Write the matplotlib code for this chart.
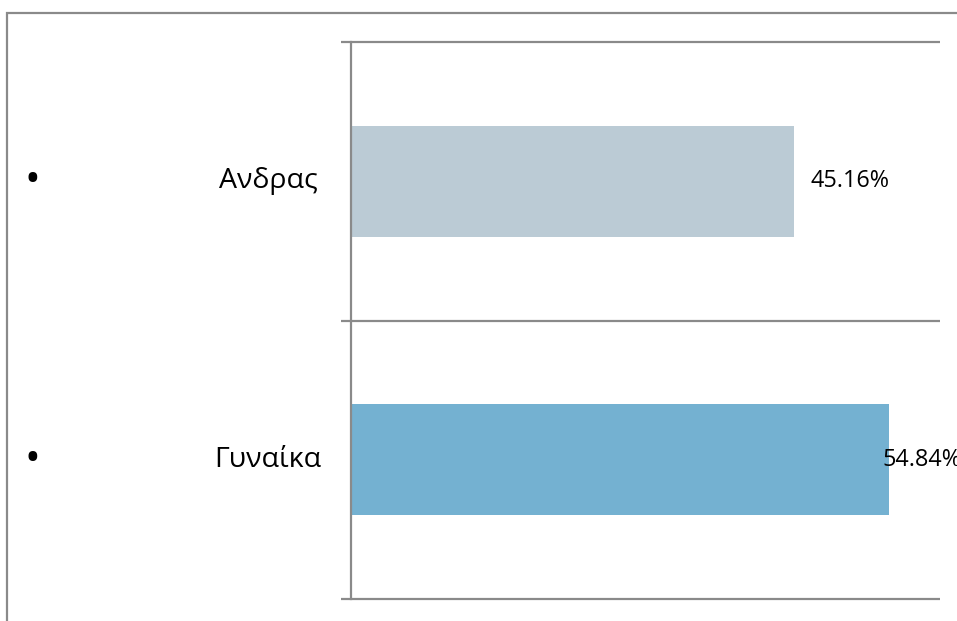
import matplotlib
matplotlib.use('Agg')
import matplotlib.pyplot as plt
import matplotlib.transforms as mtrans
from matplotlib.patches import Rectangle

categories = ['Ανδρας', 'Γυναίκα']
values = [45.16, 54.84]
value_labels = ['45.16%', '54.84%']
bar_colors = ['#BBCBD5', '#74B1D1']
label_shift_px = [16, -7]   # Excel nudges the second label back inside the plot

W, H = 957, 621
LINE = '#8A8A8A'
plt.rcParams['font.family'] = ['Open Sans', 'DejaVu Sans']

fig = plt.figure(figsize=(W / 100, H / 100), dpi=100)
fig.patch.set_facecolor('white')

# outer chart frame (runs off the right and bottom edges)
fig.patches.append(Rectangle((7 / W, -0.1), 1.2, 1.1 - 13 / H,
                             transform=fig.transFigure, fill=False,
                             edgecolor=LINE, linewidth=1.6))

ax_w = 940 - 351
ax = fig.add_axes([351 / W, 1 - 599 / H, ax_w / W, (599 - 42) / H])
ypos = list(range(len(categories)))
ax.barh(ypos, values, height=0.4, color=bar_colors, zorder=2)
ax.set_xlim(0, 60)
ax.set_ylim(len(categories) - 0.5, -0.5)

for s in ['top', 'right', 'bottom']:
    ax.spines[s].set_visible(False)
ax.spines['left'].set_color(LINE)
ax.spines['left'].set_linewidth(1.6)
ax.set_xticks([])
ax.set_yticks([])

# category boundary lines, with a short outside tick on the left
tr_ax = mtrans.blended_transform_factory(ax.transAxes, ax.transData)
bounds = [p - 0.5 for p in ypos] + [ypos[-1] + 0.5]
ax.hlines(bounds, -10 / ax_w, 1, transform=tr_ax, color=LINE,
          linewidth=1.6, clip_on=False, zorder=1)

# category labels with bullets, positioned in figure x / data y
tr = mtrans.blended_transform_factory(fig.transFigure, ax.transData)
for p, cat in zip(ypos, categories):
    ax.text(32 / W, p, '•', transform=tr, ha='center', va='center',
            fontsize=30, color='black', clip_on=False)
    ax.text(268 / W, p, cat, transform=tr, ha='center', va='center',
            fontsize=20.5, color='black', clip_on=False)

for p, v, lab, dx in zip(ypos, values, value_labels, label_shift_px):
    ax.annotate(lab, xy=(v, p), xytext=(dx * 0.72, 0), textcoords='offset points',
                ha='left', va='center', fontsize=16.8, color='black',
                annotation_clip=False, zorder=3)

fig.savefig('out.png', dpi=100, facecolor='white')
